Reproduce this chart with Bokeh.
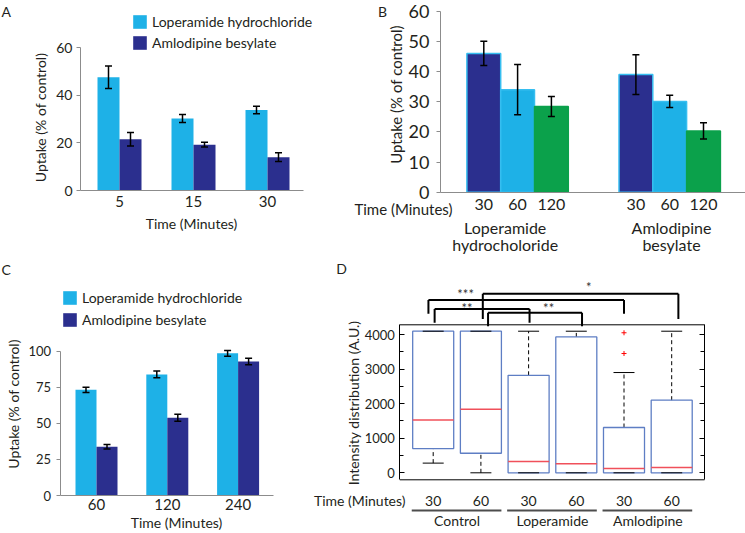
import numpy as np
from bokeh.plotting import figure
from bokeh.models import (ColumnDataSource, Whisker, TeeHead, Legend, LegendItem,
                          Label, FixedTicker, LinearAxis, Range1d)
from bokeh.layouts import row, column
from bokeh.embed import file_html
from bokeh.resources import INLINE
from bokeh.core.properties import value

FONT = "Lato"
TXT = "#231F20"
AXC = "#8C8C8C"
LIGHT = "#1EB1E7"
DARK = "#2B2F8E"
GREEN = "#0BA14B"
EDGE = "#36BEF0"
BOXC = "#5E7EC4"
MEDC = "#F0505A"

# ---------------- data ----------------
a_times = ["5", "15", "30"]
a_lop = [47.5, 30.2, 33.8]
a_lop_err = [4.7, 1.7, 1.6]
a_aml = [21.5, 19.2, 14.0]
a_aml_err = [2.8, 1.0, 1.8]
a_yticks = [0, 20, 40, 60]

b_groups = [["Loperamide", "hydrocholoride"], ["Amlodipine", "besylate"]]
b_times = ["30", "60", "120"]
b_lop = [46.0, 34.0, 28.4]
b_lop_err = [4.0, 8.3, 3.3]
b_aml = [39.0, 30.1, 20.3]
b_aml_err = [6.6, 2.0, 2.7]
b_yticks = [0, 10, 20, 30, 40, 50, 60]

c_times = ["60", "120", "240"]
c_lop = [73.2, 83.9, 98.5]
c_lop_err = [1.9, 2.3, 2.0]
c_aml = [33.8, 53.9, 92.9]
c_aml_err = [1.5, 2.4, 2.3]
c_yticks = [0, 25, 50, 75, 100]

d_groups = ["Control", "Loperamide", "Amlodipine"]
d_times = ["30", "60", "30", "60", "30", "60"]
d_q1 = [700, 565, 0, 0, 0, 0]
d_med = [1530, 1840, 330, 265, 125, 150]
d_q3 = [4095, 4095, 2820, 3930, 1310, 2100]
d_lo = [280, 0, 0, 0, 0, 0]
d_hi = [4095, 4095, 4095, 4095, 2900, 4095]
d_out_box = [5, 5]
d_out_val = [4050, 3450]
d_yticks = [0, 1000, 2000, 3000, 4000]
d_yminor = [500, 1500, 2500, 3500]
d_sig_from = [0.90, 2.04, 1.03, 2.15]
d_sig_to = [5.00, 6.14, 3.02, 4.12]
d_sig_top = [5000, 5180, 4740, 4630]
d_sig_foot = [4600, 4450, 4340, 4240]
d_sig_text = ["***", "*", "**", "**"]
d_sig_tx = [1.68, 4.26, 1.71, 3.42]
d_sig_ty = [5160, 5360, 4780, 4780]


class Panel:
    """Maps page pixels of one panel to its data coordinates (frame = whole canvas)."""
    def __init__(self, ox, oy, w, h, xpx, xval, ppx, ypx, yval, ppy):
        self.ox, self.oy, self.w, self.h = ox, oy, w, h
        self.xpx, self.xval, self.ppx = xpx, xval, ppx
        self.ypx, self.yval, self.ppy = ypx, yval, ppy

    def x(self, px):
        return self.xval + (px - self.xpx) / self.ppx

    def y(self, py):
        return self.yval + (self.ypx - py) / self.ppy

    def figure(self):
        p = figure(width=self.w, height=self.h, output_backend="svg", toolbar_location=None,
                   x_range=Range1d(self.x(self.ox), self.x(self.ox + self.w)),
                   y_range=Range1d(self.y(self.oy + self.h), self.y(self.oy)),
                   min_border=0)
        p.outline_line_color = None
        p.grid.visible = False
        return p

    def legend_loc(self, px_left, py_bottom):
        return (int(round(px_left - self.ox)), int(round(self.oy + self.h - py_bottom)))


def style_axis(ax, size, color=AXC):
    ax.axis_line_color = color
    ax.major_tick_line_color = color
    ax.minor_tick_line_color = None
    ax.major_label_text_font = FONT
    ax.major_label_text_font_size = size
    ax.major_label_text_color = TXT


def add_label(p, P, px, py, text, size, align="left", baseline="middle", angle=0.0, color=TXT):
    p.add_layout(Label(x=P.x(px), y=P.y(py), text=text, text_font=FONT, text_font_size=size,
                       text_color=color, text_align=align, text_baseline=baseline,
                       angle=angle))


def bar_legend(p, r1, r2, loc, spacing):
    leg = Legend(items=[LegendItem(label="Loperamide hydrochloride", renderers=[r1]),
                        LegendItem(label="Amlodipine besylate", renderers=[r2])],
                 location=loc, glyph_width=17, glyph_height=17, label_height=17,
                 spacing=spacing, label_standoff=4, padding=0, margin=0,
                 border_line_color=None, background_fill_alpha=0,
                 label_text_font=FONT, label_text_font_size="14px", label_text_color=TXT)
    p.add_layout(leg)


def whisk(p, x, v, e, size=7):
    v = np.array(v, float); e = np.array(e, float)
    src = ColumnDataSource(dict(x=x, up=v + e, lo=v - e))
    p.add_layout(Whisker(source=src, base="x", upper="up", lower="lo", line_color="black",
                         line_width=1.5, level="overlay",
                         upper_head=TeeHead(size=size, line_color="black", line_width=1.5),
                         lower_head=TeeHead(size=size, line_color="black", line_width=1.5)))


def grouped_panel(P, times, lop, lop_e, aml, aml_e, yticks, ybound, axis_px, xend_px,
                  bar_px, ytick_size, xtick_size, ystand):
    p = P.figure()
    xi = np.arange(len(times), dtype=float)
    bw = bar_px / P.ppx
    r1 = p.vbar(x=xi - bw / 2, top=lop, bottom=0, width=bw, fill_color=LIGHT, line_color=None)
    r2 = p.vbar(x=xi + bw / 2, top=aml, bottom=0, width=bw, fill_color=DARK, line_color=None)
    whisk(p, xi - bw / 2, lop, lop_e)
    whisk(p, xi + bw / 2, aml, aml_e)
    xa = p.xaxis[0]
    style_axis(xa, xtick_size)
    xa.fixed_location = 0
    xa.ticker = FixedTicker(ticks=list(range(len(times))))
    xa.major_label_overrides = {i: t for i, t in enumerate(times)}
    xa.bounds = (P.x(axis_px), P.x(xend_px))
    xa.major_tick_out = 0
    xa.major_tick_in = 0
    ya = p.yaxis[0]
    style_axis(ya, ytick_size)
    ya.fixed_location = P.x(axis_px)
    ya.ticker = FixedTicker(ticks=yticks)
    ya.bounds = ybound
    ya.major_tick_out = 4
    ya.major_tick_in = 0
    ya.major_label_standoff = ystand
    return p, r1, r2


HALF_PI = np.pi / 2

# ---------------- Panel A ----------------
PA = Panel(0, 0, 337, 260, 119, 0, 74.0, 190, 0, 143 / 60)
pa, ra1, ra2 = grouped_panel(PA, a_times, a_lop, a_lop_err, a_aml, a_aml_err, a_yticks,
                             (0, 60), 80, 302.7, 22, "14px", "15px", 4)
pa.xaxis[0].major_label_standoff = 5
bar_legend(pa, ra1, ra2, PA.legend_loc(131.3, 51), 4)
add_label(pa, PA, 191, 222.5, "Time (Minutes)", "14px", align="center")
add_label(pa, PA, 40, 117, "Uptake (% of control)", "14px", align="center", angle=HALF_PI)
add_label(pa, PA, 1, 11, "A", "14px")

# ---------------- Panel B ----------------
PB = Panel(337, 0, 408, 260, 483.3, 1, 33.8, 191.7, 0, 181 / 60)
pb = PB.figure()
b_pos, b_val, b_err, b_fill, b_line = [], [], [], [], []
fills = [DARK, LIGHT, GREEN]
lines = [EDGE, EDGE, GREEN]
for g, (vals, errs) in enumerate([(b_lop, b_lop_err), (b_aml, b_aml_err)]):
    for t in range(len(b_times)):
        b_pos.append(1 + g * 4.5 + t)
        b_val.append(vals[t]); b_err.append(errs[t])
        b_fill.append(fills[t]); b_line.append(lines[t])
pb.vbar(x=b_pos, top=b_val, bottom=0, width=1.0, fill_color=b_fill, line_color=b_line,
        line_width=1.5)
whisk(pb, b_pos, b_val, b_err)
xb = pb.xaxis[0]
style_axis(xb, "16px")
xb.fixed_location = 0
xb.bounds = (PB.x(440), PB.x(745))
xb.ticker = FixedTicker(ticks=b_pos)
xb.major_label_overrides = {pos: b_times[i % 3] for i, pos in enumerate(b_pos)}
xb.major_tick_out = 0
xb.major_tick_in = 0
xb.major_label_standoff = 7
yb = pb.yaxis[0]
style_axis(yb, "18px")
yb.fixed_location = PB.x(440)
yb.ticker = FixedTicker(ticks=b_yticks)
yb.bounds = (0, 60)
yb.major_tick_out = 4
yb.major_tick_in = 0
yb.major_label_standoff = 7
add_label(pb, PB, 395, 94, "Uptake (% of control)", "15px", align="center", angle=HALF_PI)
add_label(pb, PB, 452, 208, "Time (Minutes)", "15px", align="right")
for (l1, l2), cx in zip(b_groups, [504.7, 671.0]):
    add_label(pb, PB, cx, 226.5, l1, "16px", align="center")
    add_label(pb, PB, cx, 244, l2, "16px", align="center")
add_label(pb, PB, 382, 11, "B", "14px", align="center")

# ---------------- Panel C ----------------
PC = Panel(0, 260, 292, 273, 96, 0, 70.8, 495, 0, 144.3 / 100)
pc, rc1, rc2 = grouped_panel(PC, c_times, c_lop, c_lop_err, c_aml, c_aml_err, c_yticks,
                             (0, 100), 59.5, 272.7, 21, "13px", "15px", 5)
pc.xaxis[0].major_label_standoff = 3
bar_legend(pc, rc1, rc2, PC.legend_loc(61, 328.2), 5)
add_label(pc, PC, 176, 522, "Time (Minutes)", "14px", align="center")
add_label(pc, PC, 13, 403.5, "Uptake (% of control)", "14px", align="center", angle=HALF_PI)
add_label(pc, PC, 1, 269, "C", "14px")

# ---------------- Panel D ----------------
PD = Panel(292, 260, 453, 273, 432.7, 1, 47.7, 472.3, 0, 138.3 / 4000)
pd_ = PD.figure()
pd_.xaxis.visible = False
xl, xr = PD.x(399.3), PD.x(704)
frame_lo, frame_hi = PD.y(479.3), PD.y(324.3)
pd_.segment(x0=[xl, xl], x1=[xr, xr], y0=[frame_lo, frame_hi], y1=[frame_lo, frame_hi],
            line_color="black", line_width=1)
rax = LinearAxis()
pd_.add_layout(rax, "right")
for ax, loc in [(pd_.yaxis[0], xl), (rax, xr)]:
    style_axis(ax, "13px", "black")
    ax.fixed_location = loc
    ax.ticker = FixedTicker(ticks=d_yticks, minor_ticks=d_yminor)
    ax.bounds = (frame_lo, frame_hi)
    ax.major_tick_in = 5
    ax.major_tick_out = 0
    ax.minor_tick_in = 4
    ax.minor_tick_out = 0
    ax.minor_tick_line_color = "black"
    ax.major_label_standoff = 5
rax.major_label_overrides = {t: "" for t in d_yticks}

pos = np.arange(1, len(d_times) + 1, dtype=float)
bwd = 0.86
capw = 0.22
pd_.segment(x0=pos, x1=pos, y0=d_q3, y1=d_hi, line_color="black", line_dash="4 3", line_width=1)
pd_.segment(x0=pos, x1=pos, y0=d_lo, y1=d_q1, line_color="black", line_dash="4 3", line_width=1)
pd_.quad(left=pos - bwd / 2, right=pos + bwd / 2, bottom=d_q1, top=d_q3, fill_color=None,
         line_color=BOXC, line_width=1.3)
pd_.segment(x0=pos - bwd / 2, x1=pos + bwd / 2, y0=d_med, y1=d_med, line_color=MEDC,
            line_width=1.5)
pd_.segment(x0=pos - capw, x1=pos + capw, y0=d_hi, y1=d_hi, line_color="black", line_width=1)
pd_.segment(x0=pos - capw, x1=pos + capw, y0=d_lo, y1=d_lo, line_color="black", line_width=1)
pd_.scatter(x=d_out_box, y=d_out_val, marker="cross", size=5, line_color="red", line_width=1)

# significance brackets
pd_.segment(x0=d_sig_from, x1=d_sig_to, y0=d_sig_top, y1=d_sig_top, line_color="black", line_width=2)
pd_.segment(x0=d_sig_from, x1=d_sig_from, y0=d_sig_top, y1=d_sig_foot, line_color="black", line_width=2)
pd_.segment(x0=d_sig_to, x1=d_sig_to, y0=d_sig_top, y1=d_sig_foot, line_color="black", line_width=2)
pd_.text(x=d_sig_tx, y=d_sig_ty, text=d_sig_text, text_font=value(FONT),
         text_font_size="13px", text_color="#333333", text_align="center",
         text_baseline="middle")

y_tick_row, y_line, y_grp = PD.y(500), PD.y(510), PD.y(520)
pd_.text(x=pos, y=[y_tick_row] * len(pos), text=d_times, text_font=value(FONT),
         text_font_size="14px", text_color=TXT, text_align="center", text_baseline="middle")
gc = np.array([1.5, 3.5, 5.5])
pd_.segment(x0=gc - 0.95, x1=gc + 0.93, y0=[y_line] * 3, y1=[y_line] * 3,
            line_color="#4D4D4D", line_width=2)
pd_.text(x=gc, y=[y_grp] * 3, text=d_groups, text_font=value(FONT), text_font_size="14px",
         text_color=TXT, text_align="center", text_baseline="middle")
add_label(pd_, PD, 405, 500, "Time (Minutes)", "14px", align="right")
add_label(pd_, PD, 353, 402.5, "Intensity distribution (A.U.)", "14px", align="center",
          angle=HALF_PI)
add_label(pd_, PD, 341, 268, "D", "14px", align="center")

layout = column(row(pa, pb), row(pc, pd_))
open("out.html", "w").write(file_html(layout, INLINE))
